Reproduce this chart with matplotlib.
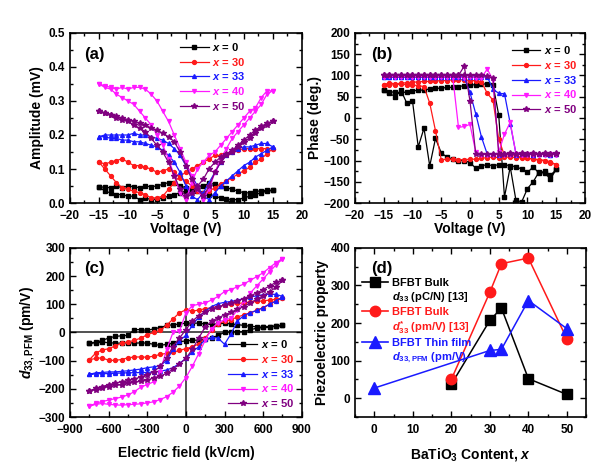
import matplotlib
matplotlib.use("Agg")
import matplotlib.pyplot as plt
from matplotlib.lines import Line2D
from matplotlib.ticker import AutoMinorLocator, MultipleLocator, FormatStrFormatter

plt.rcParams['font.family'] = ['Liberation Sans', 'DejaVu Sans']
plt.rcParams['font.weight'] = 'bold'
plt.rcParams['axes.labelweight'] = 'bold'
plt.rcParams['mathtext.fontset'] = 'custom'
plt.rcParams['mathtext.it'] = 'Liberation Sans:italic:bold'
plt.rcParams['mathtext.rm'] = 'Liberation Sans:bold'
plt.rcParams['mathtext.bf'] = 'Liberation Sans:bold'

# ---------------- data ----------------
compositions = ["0", "30", "33", "40", "50"]
colors = ["#000000", "#ff1a1a", "#1a1aff", "#ff19ff", "#800080"]
markers = ["s", "o", "^", "v", "*"]

volt_fwd = [-15, -14, -13, -12, -11, -10, -9, -8, -7, -6, -5, -4, -3, -2, -1, 0,
            1, 2, 3, 4, 5, 6, 7, 8, 9, 10, 11, 12, 13, 14, 15]
volt_bwd = volt_fwd[::-1]

# (a) amplitude (mV)
amp_fwd = {
    "0": [0.048, 0.046, 0.045, 0.05, 0.045, 0.05, 0.048, 0.045, 0.05, 0.048, 0.05, 0.055, 0.06, 0.06, 0.05, 0.045,
          0.04, 0.035, 0.03, 0.025, 0.02, 0.015, 0.012, 0.01, 0.01, 0.015, 0.02, 0.025, 0.03, 0.035, 0.037],
    "30": [0.12, 0.115, 0.12, 0.125, 0.13, 0.12, 0.11, 0.11, 0.105, 0.1, 0.09, 0.095, 0.1, 0.09, 0.075, 0.065,
           0.05, 0.035, 0.03, 0.035, 0.045, 0.055, 0.065, 0.075, 0.085, 0.095, 0.105, 0.12, 0.13, 0.145, 0.16],
    "33": [0.195, 0.2, 0.2, 0.2, 0.2, 0.2, 0.205, 0.2, 0.2, 0.195, 0.19, 0.185, 0.175, 0.16, 0.14, 0.11,
           0.08, 0.05, 0.02, 0.01, 0.03, 0.05, 0.065, 0.08, 0.095, 0.11, 0.12, 0.135, 0.145, 0.155, 0.165],
    "40": [0.35, 0.345, 0.34, 0.335, 0.34, 0.335, 0.34, 0.34, 0.335, 0.32, 0.30, 0.27, 0.24, 0.20, 0.16, 0.12,
           0.08, 0.04, 0.01, 0.04, 0.09, 0.13, 0.16, 0.19, 0.21, 0.23, 0.25, 0.27, 0.29, 0.32, 0.33],
    "50": [0.27, 0.265, 0.26, 0.255, 0.25, 0.245, 0.24, 0.235, 0.23, 0.22, 0.215, 0.205, 0.195, 0.18, 0.15, 0.11,
           0.07, 0.04, 0.02, 0.05, 0.09, 0.12, 0.14, 0.15, 0.165, 0.18, 0.19, 0.205, 0.22, 0.23, 0.24],
}
amp_bwd = {
    "0": [0.037, 0.038, 0.035, 0.035, 0.03, 0.03, 0.035, 0.04, 0.045, 0.05, 0.055, 0.058, 0.05, 0.045, 0.04, 0.035,
          0.03, 0.025, 0.02, 0.015, 0.012, 0.01, 0.015, 0.01, 0.02, 0.02, 0.025, 0.025, 0.03, 0.035, 0.048],
    "30": [0.16, 0.16, 0.16, 0.16, 0.16, 0.16, 0.155, 0.15, 0.145, 0.14, 0.14, 0.13, 0.12, 0.11, 0.1, 0.09,
           0.08, 0.06, 0.04, 0.02, 0.015, 0.015, 0.025, 0.03, 0.035, 0.04, 0.045, 0.06, 0.08, 0.1, 0.12],
    "33": [0.165, 0.175, 0.175, 0.17, 0.165, 0.165, 0.16, 0.15, 0.14, 0.12, 0.09, 0.06, 0.03, 0.01, 0.02, 0.05,
           0.09, 0.12, 0.14, 0.155, 0.165, 0.17, 0.175, 0.18, 0.18, 0.185, 0.185, 0.19, 0.19, 0.195, 0.195],
    "40": [0.33, 0.33, 0.31, 0.28, 0.27, 0.25, 0.23, 0.21, 0.19, 0.17, 0.15, 0.14, 0.12, 0.10, 0.06, 0.01,
           0.03, 0.08, 0.13, 0.17, 0.20, 0.23, 0.25, 0.27, 0.29, 0.30, 0.31, 0.32, 0.335, 0.34, 0.35],
    "50": [0.24, 0.235, 0.225, 0.215, 0.2, 0.185, 0.17, 0.155, 0.145, 0.135, 0.12, 0.1, 0.07, 0.05, 0.03, 0.02,
           0.04, 0.08, 0.12, 0.15, 0.17, 0.19, 0.21, 0.22, 0.23, 0.24, 0.245, 0.25, 0.26, 0.265, 0.27],
}

# (b) phase (deg.)
phase_fwd = {
    "0": [65, 60, 62, 58, 62, 64, 65, 66, 68, 70, 70, 72, 72, 74, 76, 78,
          78, 80, 80, 78, 7, -186, -115, -194, -197, -166, -150, -127, -130, -143, -121],
    "30": [78, 83, 80, 82, 83, 84, 85, 86, 86, 87, 88, 88, 90, 90, 90, 88,
           88, 85, 58, 42, -50, -88, -85, -90, -92, -95, -96, -100, -100, -105, -110],
    "33": [96, 97, 96, 97, 97, 96, 97, 97, 96, 97, 96, 97, 96, 97, 96, 96,
           97, 96, 97, 68, 58, 57, -13, -84, -85, -85, -86, -85, -85, -86, -85],
    "40": [97, 98, 97, 98, 97, 97, 98, 97, 97, 96, 97, 96, 97, 96, 95, 96,
           95, 95, 115, 90, -80, -38, -10, -85, -86, -85, -85, -86, -85, -85, -86],
    "50": [100, 100, 100, 100, 100, 100, 100, 100, 100, 100, 100, 100, 100, 100, 100, 100,
           100, 100, 98, 95, -85, -85, -84, -85, -85, -84, -85, -85, -84, -85, -84],
}
phase_bwd = {
    "0": [-121, -135, -125, -130, -115, -128, -120, -115, -112, -110, -110, -112, -110, -112, -118, -105,
          -100, -100, -97, -92, -82, -48, -113, -24, -68, 40, 35, 65, 50, 58, 65],
    "30": [-110, -103, -100, -98, -96, -95, -94, -93, -92, -92, -93, -92, -93, -95, -97, -97,
           -98, -98, -97, -97, -98, -30, 35, 74, 76, 78, 78, 80, 78, 78, 78],
    "33": [-85, -86, -85, -85, -86, -85, -85, -86, -85, -85, -86, -85, -85, -45, 10, 60,
           95, 96, 97, 96, 97, 96, 97, 96, 97, 96, 97, 96, 97, 96, 96],
    "40": [-86, -87, -86, -87, -86, -87, -86, -87, -86, -87, -86, -87, -86, -86, -80, -15,
           -20, -22, 97, 97, 98, 97, 97, 98, 97, 97, 98, 97, 97, 98, 97],
    "50": [-83, -84, -83, -84, -83, -84, -83, -84, -83, -84, -84, -85, -85, -85, -85, 40,
           122, 100, 100, 100, 100, 100, 100, 100, 100, 100, 100, 100, 100, 100, 100],
}

# (c) d33,PFM (pm/V) vs electric field (kV/cm)
field_fwd = [-750, -700, -650, -600, -550, -500, -450, -400, -350, -300, -250, -200, -150, -100, -50, 0,
             50, 100, 150, 200, 250, 300, 350, 400, 450, 500, 550, 600, 650, 700, 750]
field_bwd = field_fwd[::-1]
d33_fwd = {
    "0": [-38, -36, -35, -36, -38, -38, -36, -38, -37, -38, -42, -46, -42, -38, -33, -30,
          -28, -27, -25, -20, -10, 0, 2, 2, 3, 10, 15, 18, 20, 23, 25],
    "30": [-97, -92, -90, -99, -99, -96, -90, -87, -87, -88, -84, -78, -74, -70, -64, -57,
           -52, -40, -20, 10, 30, 40, 45, 55, 62, 70, 78, 88, 100, 112, 122],
    "33": [-149, -147, -146, -146, -145, -144, -143, -143, -142, -142, -140, -138, -133, -125, -110, -92,
           -70, -50, -25, -17, -20, -42, -5, 40, 60, 70, 78, 88, 100, 112, 125],
    "40": [-262, -255, -252, -255, -257, -258, -256, -255, -253, -250, -246, -238, -228, -212, -190, -160,
           -120, -75, -28, 14, 35, 45, 50, 80, 110, 140, 165, 190, 215, 240, 260],
    "50": [-208, -203, -198, -192, -188, -185, -180, -177, -173, -168, -162, -155, -145, -130, -112, -92,
           -60, -20, 20, 40, 52, 62, 72, 82, 92, 105, 118, 130, 145, 160, 185],
}
d33_bwd = {
    "0": [25, 22, 20, 18, 20, 22, 25, 28, 30, 33, 30, 28, 30, 33, 33, 33,
          30, 27, 25, 17, 13, 7, 10, 10, -10, -12, -14, -20, -28, -35, -38],
    "30": [122, 118, 115, 112, 110, 108, 105, 103, 100, 97, 92, 88, 84, 80, 75, 80,
           70, 48, 25, 7, 0, -8, -20, -28, -34, -38, -48, -58, -62, -73, -97],
    "33": [128, 135, 136, 134, 130, 126, 120, 115, 110, 107, 102, 92, 75, 55, 25, -10,
           -30, -60, -100, -118, -122, -125, -130, -133, -136, -138, -140, -140, -142, -143, -149],
    "40": [262, 248, 230, 212, 198, 185, 172, 162, 152, 145, 128, 115, 105, 100, 95, 70,
           5, 0, -60, -140, -175, -185, -194, -210, -222, -229, -235, -240, -245, -251, -262],
    "50": [185, 178, 165, 152, 140, 130, 120, 112, 105, 97, 90, 82, 72, 60, 40, 10,
           -20, -50, -90, -120, -140, -150, -158, -165, -170, -175, -180, -185, -192, -198, -208],
}

# (d) piezoelectric property vs BaTiO3 content
bulk_x = [20, 30, 33, 40, 50]
bulk_d33 = [37, 207, 240, 52, 10]
bulk_d33star = [50, 282, 358, 373, 158]
film_x = [0, 30, 33, 40, 50]
film_d33pfm = [27, 127, 130, 260, 185]

# ---------------- figure ----------------
fig = plt.figure(figsize=(6.02, 4.75), dpi=100)
axA = fig.add_axes([0.1163, 0.5726, 0.385, 0.358])
axB = fig.add_axes([0.5897, 0.5726, 0.382, 0.358])
axC = fig.add_axes([0.1163, 0.1221, 0.385, 0.356])
axD = fig.add_axes([0.5897, 0.1221, 0.384, 0.356])

TICK_FS = 8.5
LABEL_FS = 10


def style(ax):
    ax.tick_params(which='both', direction='in', top=True, right=True, labelsize=TICK_FS, width=1)
    ax.tick_params(which='major', length=4)
    ax.tick_params(which='minor', length=2)
    ax.tick_params(axis='x', pad=5)
    ax.xaxis.set_minor_locator(AutoMinorLocator(2))
    ax.yaxis.set_minor_locator(AutoMinorLocator(2))
    for s in ax.spines.values():
        s.set_linewidth(1.2)
    for lab in ax.get_xticklabels() + ax.get_yticklabels():
        lab.set_fontweight('bold')


def loop(ax, xf, xb, yf, yb, c, m, label):
    ms = 4.2 if m == '*' else 2.8
    ax.plot(list(xf) + list(xb), list(yf) + list(yb), color=c, marker=m, ms=ms, lw=0.9,
            mec=c, mfc=c, label=label)


for comp, c, m in zip(compositions, colors, markers):
    lab = r"$x$ = " + comp
    loop(axA, volt_fwd, volt_bwd, amp_fwd[comp], amp_bwd[comp], c, m, lab)
    loop(axB, volt_fwd, volt_bwd, phase_fwd[comp], phase_bwd[comp], c, m, lab)
    loop(axC, field_fwd, field_bwd, d33_fwd[comp], d33_bwd[comp], c, m, lab)

# (a)
axA.set_xlim(-20, 20)
axA.set_ylim(0, 0.5)
axA.xaxis.set_major_locator(MultipleLocator(5))
axA.yaxis.set_major_locator(MultipleLocator(0.1))
axA.yaxis.set_major_formatter(FormatStrFormatter('%.1f'))
axA.set_xlabel("Voltage (V)", fontsize=LABEL_FS, labelpad=0)
axA.set_ylabel("Amplitude (mV)", fontsize=LABEL_FS, labelpad=3)
axA.text(0.06, 0.92, "(a)", transform=axA.transAxes, fontsize=12, fontweight='bold', va='top')

# (b)
axB.set_xlim(-20, 20)
axB.set_ylim(-200, 200)
axB.xaxis.set_major_locator(MultipleLocator(5))
axB.yaxis.set_major_locator(MultipleLocator(50))
axB.set_xlabel("Voltage (V)", fontsize=LABEL_FS, labelpad=0)
axB.set_ylabel("Phase (deg.)", fontsize=LABEL_FS, labelpad=1)
axB.text(0.07, 0.92, "(b)", transform=axB.transAxes, fontsize=12, fontweight='bold', va='top')

# (c)
axC.set_xlim(-900, 900)
axC.set_ylim(-300, 300)
axC.xaxis.set_major_locator(MultipleLocator(300))
axC.yaxis.set_major_locator(MultipleLocator(100))
axC.axhline(0, color='#333333', lw=1.2, zorder=0)
axC.axvline(0, color='#333333', lw=1.2, zorder=0)
axC.set_xlabel("Electric field (kV/cm)", fontsize=LABEL_FS, labelpad=7)
axC.set_ylabel(r"$d_{\mathrm{33,PFM}}$ (pm/V)", fontsize=LABEL_FS, labelpad=1)
axC.text(0.06, 0.92, "(c)", transform=axC.transAxes, fontsize=12, fontweight='bold', va='top')

# (d)
axD.plot(bulk_x, bulk_d33, color='#000000', marker='s', ms=7, lw=1.1)
axD.plot(bulk_x, bulk_d33star, color='#ff1a1a', marker='o', ms=7.5, lw=1.1)
axD.plot(film_x, film_d33pfm, color='#1a1aff', marker='^', ms=8, lw=1.1)
axD.set_xlim(-5, 55)
axD.set_ylim(-50, 400)
axD.xaxis.set_major_locator(MultipleLocator(10))
axD.yaxis.set_major_locator(MultipleLocator(100))
axD.set_xlabel(r"BaTiO$_\mathrm{3}$ Content, $x$", fontsize=LABEL_FS, labelpad=7)
axD.set_ylabel("Piezoelectric property", fontsize=LABEL_FS, labelpad=1)
axD.text(0.07, 0.92, "(d)", transform=axD.transAxes, fontsize=12, fontweight='bold', va='top')

for ax in (axA, axB, axC, axD):
    style(ax)
axD.set_yticks([0, 100, 200, 300, 400])
for lab in axD.get_yticklabels():
    lab.set_fontweight('bold')


def color_legend(leg, cols):
    for t, c in zip(leg.get_texts(), cols):
        t.set_color(c)


legkw = dict(frameon=False, fontsize=8, handlelength=2.6, handletextpad=0.3,
             labelspacing=0.25, borderaxespad=0.3)
legA = axA.legend(loc='upper left', bbox_to_anchor=(0.44, 1.0), **legkw)
color_legend(legA, colors)
legB = axB.legend(loc='upper right', bbox_to_anchor=(1.0, 0.98), **legkw)
color_legend(legB, colors)
legC = axC.legend(loc='lower right', bbox_to_anchor=(1.0, 0.0), **legkw)
color_legend(legC, colors)

blank = Line2D([], [], linestyle='none')
hD = [Line2D([], [], color='#000000', marker='s', ms=7, lw=1.2), blank,
      Line2D([], [], color='#ff1a1a', marker='o', ms=7.5, lw=1.2), blank,
      Line2D([], [], color='#1a1aff', marker='^', ms=8, lw=1.2), blank]
lD = ["BFBT Bulk", r"$d_{\mathrm{33}}$ (pC/N) [13]",
      "BFBT Bulk", r"$d^{\mathrm{*}}_{\mathrm{33}}$ (pm/V) [13]",
      "BFBT Thin film", r"$d_{\mathrm{33,PFM}}$ (pm/V)"]
legD = axD.legend(hD, lD, loc='upper left', bbox_to_anchor=(0.0, 0.86), frameon=False,
                  fontsize=8, handlelength=2.4, handletextpad=0.3, labelspacing=0.2,
                  borderaxespad=0.2)
color_legend(legD, ['#000000', '#000000', '#ff1a1a', '#ff1a1a', '#1a1aff', '#1a1aff'])

fig.savefig("out.png", dpi=100)
